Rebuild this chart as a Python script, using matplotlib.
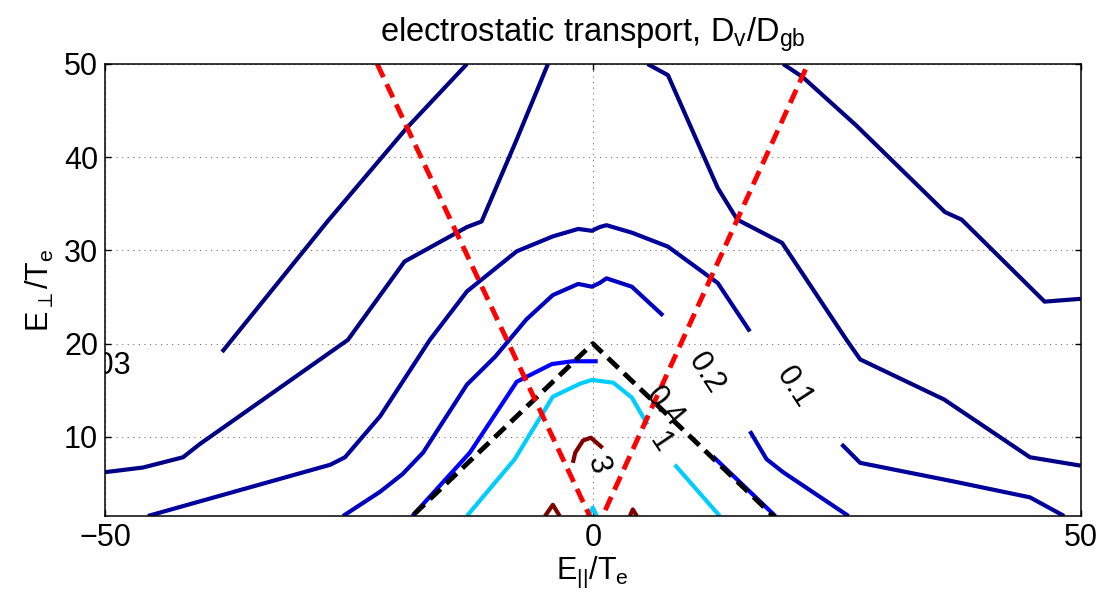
import matplotlib
matplotlib.use('Agg')
import matplotlib.pyplot as plt
from matplotlib import cm, colors

plt.rcParams['font.family'] = ['Liberation Sans', 'DejaVu Sans']
plt.rcParams['mathtext.fontset'] = 'custom'
plt.rcParams['mathtext.rm'] = 'Liberation Sans'
plt.rcParams['mathtext.it'] = 'Liberation Sans'
plt.rcParams['mathtext.fallback'] = 'stixsans'

# contour levels of D_v/D_gb and their traced line pieces (E_par, E_perp)
levels = [0.03, 0.05, 0.1, 0.2, 0.4, 1, 3]

c003 = [([-38.0, -37.0, -27.2, -19.1, -12.9], [19.1, 20.4, 33.1, 43.1, 50.0]),
        ([19.5, 21.5, 27.0, 36.1, 37.8, 46.3, 50.0], [50.0, 48.6, 43.4, 34.1, 33.3, 24.5, 24.8])]
c005 = [([-50.0, -46.1, -42.0, -40.3, -25.1, -19.3, -12.9, -11.4, -7.8, -4.6],
         [6.2, 6.7, 7.8, 9.2, 20.4, 28.8, 32.5, 33.1, 41.9, 50.0]),
        ([5.6, 7.7, 12.8, 14.8, 19.4, 26.0, 27.4, 36.0, 44.8, 50.0],
         [50.0, 48.8, 36.7, 33.3, 30.8, 20.4, 18.3, 14.0, 7.8, 6.9])]
c01 = [([-45.6, -26.9, -25.4, -21.8, -16.7, -12.9, -7.8, -4.1, -1.5, -0.1, 0.7, 1.4, 4.0, 7.7, 12.8, 16.1],
        [1.5, 7.0, 7.8, 12.2, 20.4, 25.6, 29.9, 31.5, 32.3, 32.1, 32.5, 32.7, 31.9, 30.4, 26.5, 21.3]),
       ([25.5, 27.4, 37.0, 44.8, 48.3], [9.2, 7.2, 5.2, 3.5, 1.5])]
c02 = [([-25.6, -21.8, -19.5, -17.4, -12.9, -10.0, -6.8, -4.1, -1.5, -0.1, 0.7, 1.4, 4.0, 7.2],
        [1.5, 4.1, 6.0, 8.3, 15.6, 18.6, 22.6, 25.2, 26.4, 26.1, 26.5, 27.0, 26.1, 23.0]),
       ([16.1, 17.8, 19.5, 26.2], [10.6, 7.6, 6.2, 1.5])]
c04 = [([-18.5, -12.6, -7.8, -4.2, -2.1, 0.5], [1.5, 8.3, 15.9, 17.8, 18.1, 18.1]),
       ([12.3, 18.7], [7.9, 1.5])]
c1 = [([-12.9, -8.0, -4.1, -1.3, -0.1, 2.1, 4.0, 5.6], [1.5, 7.6, 14.3, 15.7, 16.1, 15.8, 14.2, 11.3]),
      ([8.4, 13.0], [7.0, 1.5]),
      ([-0.5, 0.0, 0.4], [1.5, 2.4, 1.5])]
c3 = [([-2.05, -1.8, -1.0, -0.2, 1.0], [7.2, 8.3, 9.6, 9.9, 8.8]),
      ([-4.9, -4.1, -3.4], [1.5, 2.7, 1.5]),
      ([3.8, 4.1, 4.5], [1.5, 2.2, 1.5])]
pieces = [c003, c005, c01, c02, c04, c1, c3]

# inline labels: level, E_par, E_perp, angle
clabels = [(0.03, -50.4, 17.6, 0), (0.1, 20.6, 15.3, -57), (0.2, 11.6, 16.8, -57),
           (0.4, 7.4, 13.2, -50), (1, 6.9, 9.4, -56), (3, 0.5, 7.0, -75)]

# reference lines
black_x = [-20, 0, 20]
black_y = [0, 20, 0]
red_x = [-22.1, 0.35, 22.05]
red_y = [50, 0, 50]

fig = plt.figure(figsize=(11.05, 5.99), dpi=100)
ax = fig.add_axes([0.095, 0.1386, 0.883, 0.7546])

norm = colors.Normalize(vmin=min(levels), vmax=max(levels))
for lev, segs in zip(levels, pieces):
    col = cm.jet(norm(lev))
    for xs, ys in segs:
        ax.plot(xs, ys, color=col, lw=3, solid_capstyle='butt', solid_joinstyle='round')

for lev, x, y, rot in clabels:
    ax.text(x, y, '%g' % lev, fontsize=22, rotation=rot, ha='center', va='center',
            rotation_mode='anchor', clip_on=True)

ax.plot(black_x, black_y, color='k', lw=3.5, dashes=(3.0, 1.6))
ax.plot(red_x, red_y, color='red', lw=3.5, dashes=(3.0, 1.6))

ax.set_xlim(-50, 50)
ax.set_ylim(1.5, 50)
ax.set_xticks([-50, 0, 50])
ax.set_yticks([10, 20, 30, 40, 50])
ax.grid(True, color='0.45', linestyle=(0, (1, 4)), lw=0.8)
ax.tick_params(direction='in', top=True, right=True, length=4, width=1, labelsize=22, pad=5)
for sp in ax.spines.values():
    sp.set_linewidth(1.1)

ax.set_title(r'electrostatic transport, $\mathregular{D_v/D_{gb}}$', fontsize=23.5, pad=16)
ax.set_xlabel(r'$\mathregular{E_{||}/T_e}$', fontsize=22, labelpad=1)
ax.set_ylabel(r'$\mathregular{E_{\perp}/T_e}$', fontsize=22, labelpad=6)

fig.savefig('out.png', dpi=100)
